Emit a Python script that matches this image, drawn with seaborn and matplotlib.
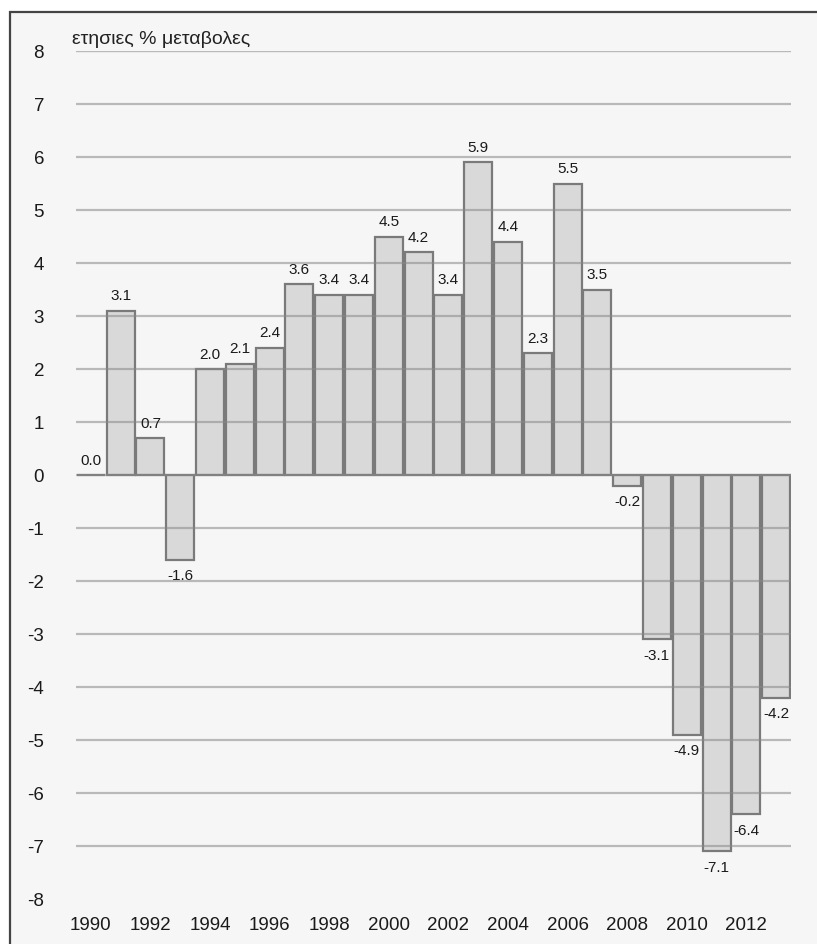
import matplotlib
matplotlib.use('Agg')
import matplotlib.pyplot as plt
import numpy as np
import pandas as pd
import seaborn as sns
from matplotlib.patches import Rectangle

years = list(range(1990, 2014))
changes = [0.0, 3.1, 0.7, -1.6, 2.0, 2.1, 2.4, 3.6, 3.4, 3.4, 4.5, 4.2,
           3.4, 5.9, 4.4, 2.3, 5.5, 3.5, -0.2, -3.1, -4.9, -7.1, -6.4, -4.2]
y_ticks = list(range(-8, 9))
title_text = 'ετησιες % μεταβολες'

df = pd.DataFrame({'Year': years, 'Change': changes})

sns.set_theme(style='white')
plt.rcParams['font.family'] = ['Liberation Sans', 'DejaVu Sans']

bg = '#f6f6f6'
fig = plt.figure(figsize=(8.17, 9.45), dpi=100, facecolor='white')

# outer frame (left and top edges visible, rest cut off)
fig.patches.append(Rectangle((10 / 817, -0.1), 1.2, 1 - 13 / 945 + 0.1,
                             transform=fig.transFigure, facecolor=bg,
                             edgecolor='#444444', linewidth=1.6, zorder=-10))

ax = fig.add_axes([76 / 817, 1 - 900 / 945, (791 - 76) / 817, (900 - 52) / 945])
ax.set_facecolor(bg)

sns.barplot(data=df, x='Year', y='Change', color='#d9d9d9', saturation=1,
            width=0.94, edgecolor='#7a7a7a', linewidth=1.6, ax=ax, zorder=2)

# grid lines, drawn over the bars (they show through in the original)
for t in y_ticks:
    if t == -8:
        continue
    ax.axhline(t, color='#888888', alpha=0.55,
               linewidth=1.0 if t == 8 else 1.6, zorder=3)

ax.bar_label(ax.containers[0], fmt='%.1f', padding=6, fontsize=11,
             color='#1a1a1a')

ax.set_ylim(-8, 8)
ax.set_xlim(-0.5, len(years) - 0.5)
ax.set_yticks(y_ticks)
ax.set_yticklabels([str(t) for t in y_ticks], fontsize=13.5, color='#1a1a1a')
ax.set_xticks(range(len(years)))
ax.set_xticklabels([str(y) if y % 2 == 0 else '' for y in years],
                   fontsize=13.5, color='#1a1a1a')
ax.tick_params(axis='y', length=0, pad=23)
ax.tick_params(axis='x', length=0, pad=12)
ax.set_xlabel('')
ax.set_ylabel('')
sns.despine(ax=ax, left=True, bottom=True)

ax.text(-0.63, 8.15, title_text, fontsize=14, color='#222222',
        ha='left', va='baseline')

fig.savefig('out.png', dpi=100, facecolor='white')
